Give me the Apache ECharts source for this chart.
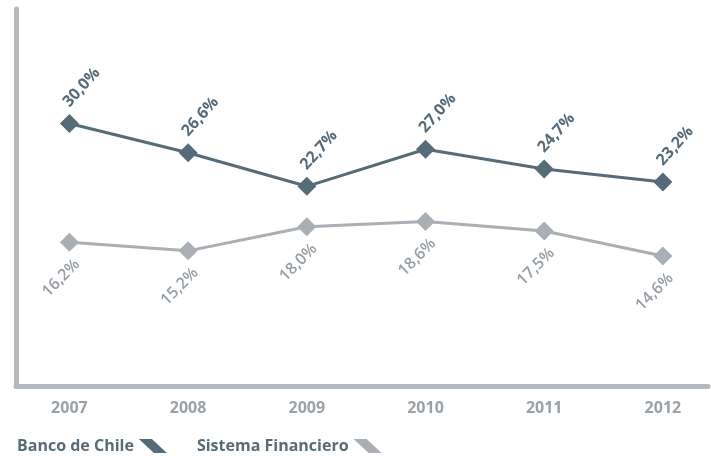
<!DOCTYPE html>
<html>
<head>
<meta charset="utf-8">
<script src="https://cdn.jsdelivr.net/npm/echarts@6/dist/echarts.min.js"></script>
<style>
  html, body { margin: 0; padding: 0; background: #fff; }
  #chart { width: 711px; height: 456px; }
</style>
</head>
<body>
<div id="chart"></div>
<script>
var years = [2007, 2008, 2009, 2010, 2011, 2012];
var bancoDeChile = [30.0, 26.6, 22.7, 27.0, 24.7, 23.2];
var sistemaFinanciero = [16.2, 15.2, 18.0, 18.6, 17.5, 14.6];

var darkColor = '#566b78';
var lightColor = '#a9afb4';
var font = 'Open Sans';

function pairs(vals) {
    return years.map(function (y, i) { return [y, vals[i]]; });
}

function pct(p) {
    return p.value[1].toFixed(1).replace('.', ',') + '%';
}

var chart = echarts.init(document.getElementById('chart'));

var option = {
    animation: false,
    grid: { left: 16, right: 3, top: 9, bottom: 70 },
    legend: {
        left: 17,
        bottom: 2,
        padding: 0,
        align: 'right',
        itemWidth: 28,
        itemHeight: 14,
        itemGap: 30,
        textStyle: { fontFamily: font, fontWeight: 'bold', fontSize: 16, color: darkColor },
        data: [
            { name: 'Banco de Chile', icon: 'path://M0,0 L13,0 L28,14 L15,14 Z', itemStyle: { color: darkColor } },
            { name: 'Sistema Financiero', icon: 'path://M0,0 L13,0 L28,14 L15,14 Z', itemStyle: { color: lightColor } }
        ]
    },
    xAxis: {
        type: 'value',
        min: 2006.55,
        max: 2012.38,
        splitLine: { show: false },
        axisTick: { show: false },
        axisLine: { onZero: false, lineStyle: { color: '#b4b9bd', width: 5 } },
        axisLabel: {
            customValues: years,
            margin: 14,
            fontFamily: font,
            fontWeight: 'bold',
            fontSize: 16,
            color: '#9aa1a7',
            formatter: function (v) { return String(v); }
        }
    },
    yAxis: {
        type: 'value',
        min: -0.5,
        max: 43.3,
        splitLine: { show: false },
        axisTick: { show: false },
        axisLabel: { show: false },
        axisLine: { show: true, onZero: false, lineStyle: { color: '#b4b9bd', width: 5 } }
    },
    series: [
        {
            name: 'Banco de Chile',
            type: 'line',
            data: pairs(bancoDeChile),
            symbol: 'diamond',
            symbolSize: 19,
            color: darkColor,
            lineStyle: { width: 3, color: darkColor },
            itemStyle: { color: darkColor },
            label: {
                show: true,
                position: 'top',
                distance: 13,
                offset: [-5, 0],
                rotate: 48,
                align: 'left',
                verticalAlign: 'middle',
                fontFamily: font,
                fontWeight: 'bold',
                fontSize: 16,
                color: darkColor,
                formatter: pct
            }
        },
        {
            name: 'Sistema Financiero',
            type: 'line',
            data: pairs(sistemaFinanciero),
            symbol: 'diamond',
            symbolSize: 19,
            color: lightColor,
            lineStyle: { width: 3, color: lightColor },
            itemStyle: { color: lightColor },
            label: {
                show: true,
                position: 'bottom',
                distance: 18,
                offset: [11, 0],
                rotate: 45,
                align: 'right',
                verticalAlign: 'middle',
                fontFamily: font,
                fontWeight: 600,
                fontSize: 16,
                color: '#979ea4',
                formatter: pct
            }
        }
    ]
};

chart.setOption(option);
</script>
</body>
</html>
